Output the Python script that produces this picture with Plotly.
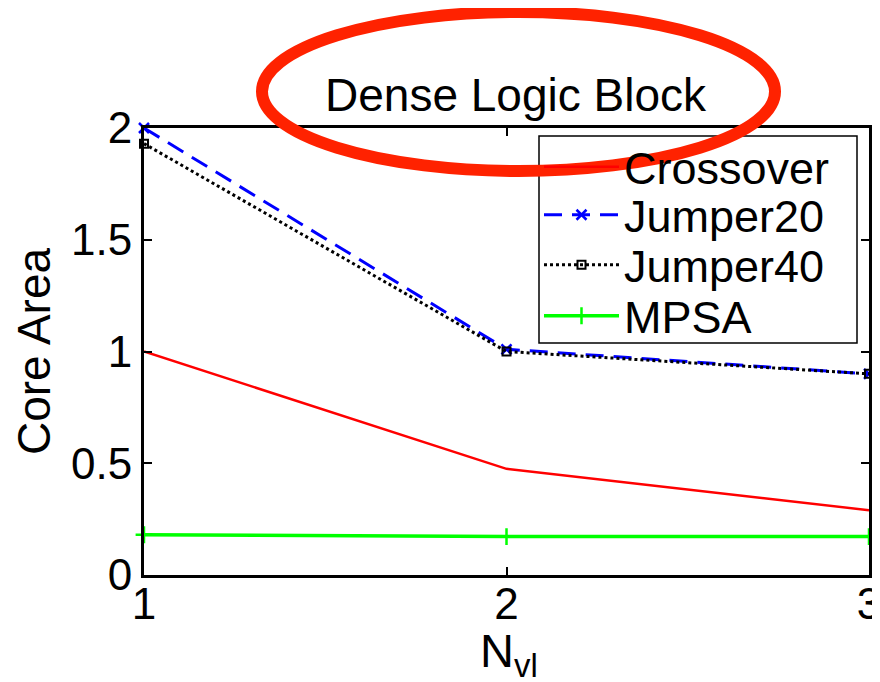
import plotly.graph_objects as go

x_vals = [1, 2, 3]
crossover = [1.0, 0.475, 0.29]
jumper20 = [2.0, 1.01, 0.90]
jumper40 = [1.93, 1.0, 0.90]
mpsa = [0.18, 0.172, 0.172]

y_ticks = [0, 0.5, 1, 1.5, 2]
y_tick_text = ["0", "0.5", "1", "1.5", "2"]
x_ticks = [1, 2, 3]

FONT = "Liberation Sans, Arial, Helvetica, sans-serif"
FS = 44
LEG_FS = 45

# page body has an 8px margin, so the figure is drawn 8px shifted
OFF = 8
FIG_W, FIG_H = 880 - OFF, 682 - OFF

# plot-area geometry (figure pixels)
L, R, T, B = 144 - OFF, 869 - OFF, 128 - OFF, 575 - OFF
W, H = R - L, B - T


def px(xp):
    """reference-window pixel x -> paper coordinate"""
    return (xp - OFF - L) / W


def py(yp):
    """reference-window pixel y -> paper coordinate"""
    return (B - (yp - OFF)) / H


fig = go.Figure()
fig.add_trace(go.Scatter(x=x_vals, y=crossover, name="Crossover", mode="lines",
                         line=dict(color="#ff0000", width=2.5), cliponaxis=False,
                         legend="legend"))
fig.add_trace(go.Scatter(x=x_vals, y=jumper20, name="Jumper20", mode="lines+markers",
                         line=dict(color="#0000ff", width=3, dash="18px,10px"),
                         marker=dict(symbol="x-thin-open", size=10, color="#0000ff",
                                     line=dict(color="#0000ff", width=2.5)),
                         cliponaxis=False, legend="legend2"))
fig.add_trace(go.Scatter(x=x_vals, y=jumper40, name="Jumper40", mode="lines+markers",
                         line=dict(color="#000000", width=3, dash="dot"),
                         marker=dict(symbol="square-open", size=8, color="#000000",
                                     line=dict(color="#000000", width=2)),
                         cliponaxis=False, legend="legend3"))
fig.add_trace(go.Scatter(x=x_vals, y=mpsa, name="MPSA", mode="lines+markers",
                         line=dict(color="#00ff00", width=3.5),
                         marker=dict(symbol="cross-thin-open", size=12, color="#00ff00",
                                     line=dict(color="#00ff00", width=2.5)),
                         cliponaxis=False, legend="legend4"))


def leg(yc):
    return dict(x=px(539), y=py(yc), xanchor="left", yanchor="middle",
                bgcolor="rgba(255,255,255,0)", borderwidth=0,
                font=dict(size=LEG_FS, family=FONT, color="black"), itemwidth=75)


fig.update_layout(
    width=FIG_W, height=FIG_H,
    margin=dict(l=L, r=FIG_W - R, t=T, b=FIG_H - B, autoexpand=False),
    paper_bgcolor="white", plot_bgcolor="white",
    font=dict(family=FONT, size=FS, color="black"),
    showlegend=True,
    legend=leg(167), legend2=leg(215), legend3=leg(265), legend4=leg(316),
    xaxis=dict(range=[1, 3], tickvals=x_ticks, ticks="inside", ticklen=8, tickwidth=1.5,
               tickcolor="black", showline=True, linecolor="black", linewidth=3,
               mirror="ticks", showgrid=False, zeroline=False, automargin=False,
               ticklabeloverflow="allow", ticklabelstandoff=-12),
    yaxis=dict(range=[0, 2], tickvals=y_ticks, ticktext=y_tick_text, ticks="inside",
               ticklen=8, tickwidth=1.5, tickcolor="black", showline=True,
               linecolor="black", linewidth=3, mirror="ticks", showgrid=False,
               zeroline=False, automargin=False, ticklabeloverflow="allow",
               title=dict(text="Core Area", font=dict(size=46), standoff=7)),
)

# x-axis title, partly cut by the window edge as in the reference
fig.add_annotation(text="N<sub>vl</sub>", xref="paper", yref="paper",
                   x=px(509), y=py(654), xanchor="center", yanchor="middle",
                   showarrow=False, font=dict(size=47, family=FONT))

# legend frame
fig.add_shape(type="rect", xref="paper", yref="paper", layer="above",
              x0=px(539), x1=px(857), y0=py(343), y1=py(136),
              fillcolor="white", line=dict(color="black", width=1.5))

fig.add_annotation(text="Dense Logic Block", xref="paper", yref="paper",
                   x=px(516), y=py(95),
                   showarrow=False, font=dict(size=46, family=FONT), xanchor="center",
                   yanchor="middle")

fig.add_shape(type="circle", xref="paper", yref="paper", layer="above",
              x0=px(262), x1=px(775), y0=py(171), y1=py(12),
              line=dict(color="#ff2200", width=12))

fig.write_html("out.html")
